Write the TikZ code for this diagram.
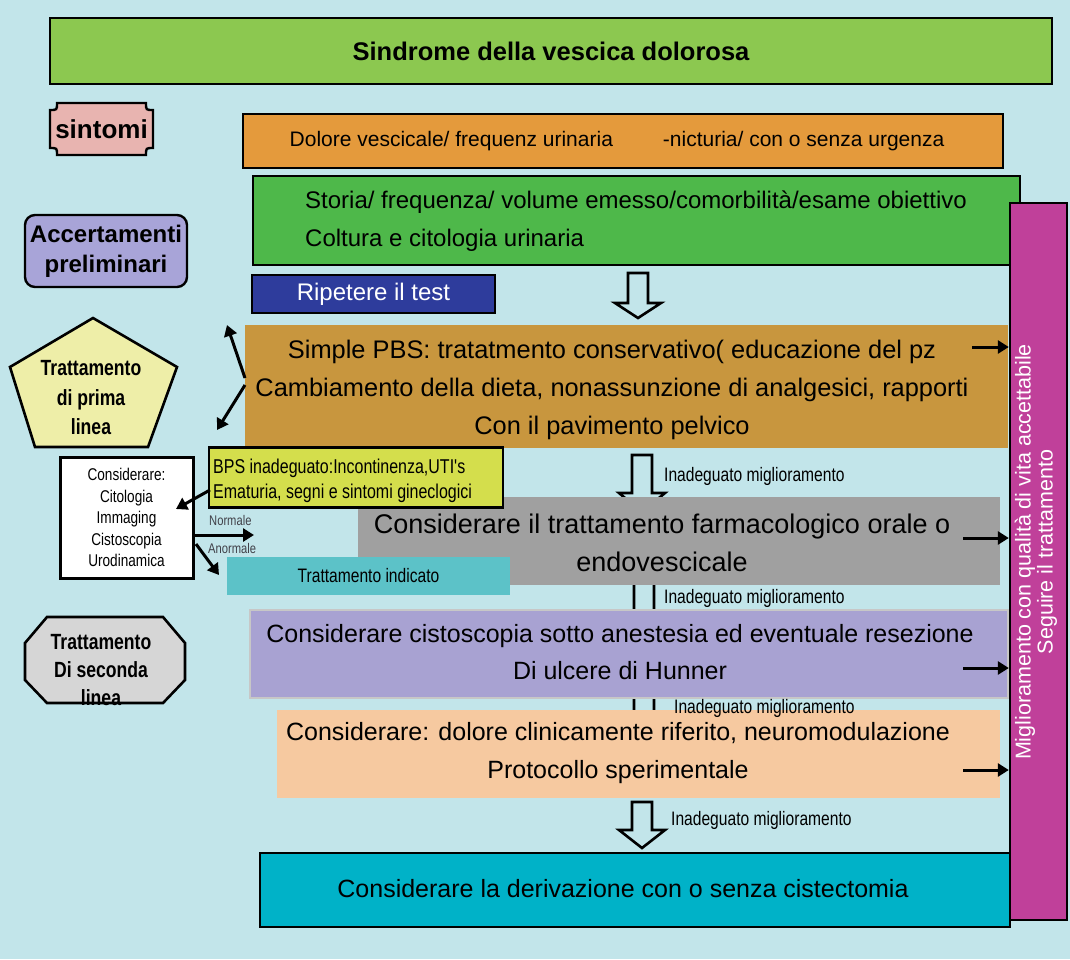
\documentclass[tikz,border=0pt]{standalone}
\usepackage{fontspec}
\setmainfont{Liberation Sans}
\newfontfamily\narrowsf[FakeStretch=0.8]{Liberation Sans}
\usetikzlibrary{arrows.meta}

\definecolor{bgc}{HTML}{C2E5EA}
\definecolor{titlegreen}{HTML}{8CC850}
\definecolor{symppink}{HTML}{E8B4B0}
\definecolor{orangebar}{HTML}{E49A3C}
\definecolor{histgreen}{HTML}{4EB84A}
\definecolor{lavender}{HTML}{A8A4D8}
\definecolor{navybar}{HTML}{2E3C9C}
\definecolor{ochre}{HTML}{C8963E}
\definecolor{paleyellow}{HTML}{EEEEA8}
\definecolor{limebar}{HTML}{D4DE4C}
\definecolor{midgray}{HTML}{A0A0A0}
\definecolor{tealsoft}{HTML}{5CC2C8}
\definecolor{violetbar}{HTML}{A8A2D2}
\definecolor{lightgraybox}{HTML}{D6D6D6}
\definecolor{peachbar}{HTML}{F6C9A0}
\definecolor{cyanbar}{HTML}{00B2C8}
\definecolor{magentabar}{HTML}{C0409A}
\definecolor{labelgray}{HTML}{404048}

\newcommand\fsz[2]{\fontsize{#1}{#2}\selectfont}
% hollow block arrow pointing down: centre x, top, shoulder, tip
\newcommand\hollowdown[4]{%
  \draw[hollow] ({#1-10},#2) -- ({#1+10},#2) -- ({#1+10},#3) -- ({#1+23},#3)
    -- (#1,#4) -- ({#1-23},#3) -- ({#1-10},#3) -- cycle;}

\begin{document}
\begin{tikzpicture}[x=1pt,y=-1pt,
  box/.style={draw=black, line width=2.4pt, inner sep=0pt},
  panel/.style={draw=none, inner sep=0pt},
  txt/.style={inner sep=0pt, align=center},
  conn/.style={line width=3pt, -{Triangle[length=11pt,width=13pt]}},
  hollow/.style={draw=black, line width=2.6pt, fill=bgc, line join=miter},
  note/.style={inner sep=0pt, anchor=west, font=\narrowsf\fsz{19.5}{22}},
  tiny/.style={inner sep=0pt, anchor=west, text=labelgray, font=\narrowsf\fsz{14}{16}},
]
\useasboundingbox (0,0) rectangle (1070,959);
\fill[bgc] (0,0) rectangle (1070,959);

% block arrows between the treatment steps (partly covered by the boxes)
\hollowdown{638}{273}{303}{318}
\hollowdown{642}{455}{493}{512}
\hollowdown{644}{575}{620}{640}
\hollowdown{644}{690}{730}{745}
\hollowdown{642}{802}{830}{848}

% title
\node[box, fill=titlegreen, minimum width=1002pt, minimum height=66pt,
      font=\bfseries\fsz{25.5}{30}] (title) at (551,51) {Sindrome della vescica dolorosa};

% symptoms
\draw[line width=2.4pt, fill=symppink]
  (57,103) -- (146,103) .. controls (146,110) .. (153,110) -- (153,148)
  .. controls (146,148) .. (146,155) -- (57,155) .. controls (57,148) .. (50,148)
  -- (50,110) .. controls (57,110) .. (57,103) -- cycle;
\node[txt, font=\bfseries\fsz{26}{30}] (sintomi) at (101.5,129) {sintomi};
\node[box, fill=orangebar, minimum width=760pt, minimum height=54pt] (symptoms) at (623,141) {};
\node[txt, font=\fsz{21}{24}] (symptomstext) at (617,141)
  {Dolore vescicale/ frequenz urinaria\hspace{50pt}-nicturia/ con o senza urgenza};

% preliminary assessment
\node[box, fill=lavender, rounded corners=10pt, minimum width=162pt, minimum height=72pt,
      align=center, font=\bfseries\fsz{24}{30}] (prelim) at (106,251) {Accertamenti\\preliminari};
\node[box, fill=histgreen, minimum width=767pt, minimum height=89pt] (history) at (636.5,220.5) {};
\node[txt, align=left, anchor=west, font=\fsz{24}{38}] (historytext) at (305,221)
  {Storia/ frequenza/ volume emesso/comorbilità/esame obiettivo\\Coltura e citologia urinaria};
\node[box, fill=navybar, text=white, minimum width=243pt, minimum height=38pt,
      font=\fsz{24}{28}] (repeat) at (373.5,294) {Ripetere il test};

% first line treatment
\node[panel, fill=ochre, minimum width=763pt, minimum height=123pt] (pbs) at (626.5,386.5) {};
\node[txt, font=\fsz{25.4}{38}] (pbstext) at (612,390)
  {Simple PBS: tratatmento conservativo( educazione del pz\\
   Cambiamento della dieta, nonassunzione di analgesici, rapporti\\
   Con il pavimento pelvico};
\draw[line width=2.6pt, fill=paleyellow] (93,318) -- (177,367) -- (148,447) -- (35,447) -- (10,367) -- cycle;
\node[txt, font=\narrowsf\bfseries\fsz{22}{29.5}] (firstline) at (91,398) {Trattamento\\di prima\\linea};

% oral / intravesical treatment
\node[panel, fill=midgray, minimum width=642pt, minimum height=88pt] (oral) at (679,541) {};
\node[txt, font=\fsz{27}{38}] (oraltext) at (662,543)
  {Considerare il trattamento farmacologico orale o\\endovescicale};

% further work-up
\node[box, line width=3pt, fill=white, minimum width=133pt, minimum height=121pt,
      align=center, font=\narrowsf\fsz{17}{21.5}] (workup) at (126.5,517.5)
  {Considerare:\\Citologia\\Immaging\\Cistoscopia\\Urodinamica};
\node[box, fill=limebar, minimum width=294pt, minimum height=60pt] (bps) at (356,477.5) {};
\node[txt, align=left, anchor=west, font=\narrowsf\fsz{20}{25}] (bpstext) at (213,480.5)
  {BPS inadeguato:Incontinenza,UTI's\\Ematuria, segni e sintomi gineclogici};
\node[panel, fill=tealsoft, minimum width=283pt, minimum height=38pt,
      font=\narrowsf\fsz{19.5}{22}] (indicated) at (368.5,576) {Trattamento indicato};

% second line treatment
\node[panel, draw=black!22, line width=2pt, fill=violetbar, minimum width=758pt, minimum height=88pt] (cysto) at (629,654) {};
\node[txt, font=\fsz{25}{37}] (cystotext) at (620,652)
  {Considerare cistoscopia sotto anestesia ed eventuale resezione\\Di ulcere di Hunner};
\draw[line width=2.6pt, fill=lightgraybox] (47,617) -- (163,617) -- (185,643) -- (185,680)
  -- (163,703) -- (47,703) -- (25,680) -- (25,643) -- cycle;
\node[txt, font=\narrowsf\bfseries\fsz{22}{28}] (secondline) at (101,670) {Trattamento\\Di seconda\\linea};

\node[panel, fill=peachbar, minimum width=723pt, minimum height=88pt] (neuro) at (638.5,754) {};
\node[txt, font=\fsz{25}{38}] (neurotext) at (618,753.5)
  {Considerare: dolore clinicamente riferito, neuromodulazione\\Protocollo sperimentale};

\node[box, fill=cyanbar, minimum width=750pt, minimum height=74pt] (diversion) at (635,890) {};
\node[txt, font=\fsz{25}{30}] (diversiontext) at (623,889) {Considerare la derivazione con o senza cistectomia};

% quality of life bar
\node[box, fill=magentabar, minimum width=57pt, minimum height=717pt] (qol) at (1038.5,561.5) {};
\node[txt, rotate=90, text=white, font=\fsz{21.5}{22}] (qoltext) at (1036,552)
  {Miglioramento con qualità di vita accettabile\\Seguire il trattamento};

% step labels
\node[note] (inad1) at (664,476) {Inadeguato miglioramento};
\node[note] (inad2) at (664,598) {Inadeguato miglioramento};
\node[note] (inad3) at (674,708) {Inadeguato miglioramento};
\node[note] (inad4) at (671,820) {Inadeguato miglioramento};

% connectors
\coordinate (pbsA) at (245,378);
\coordinate (pbsB) at (245,385);
\coordinate (upTip) at (227,325);
\coordinate (downTip) at (217,430);
\draw[conn] (pbsA) -- (upTip);
\draw[conn] (pbsB) -- (downTip);

\coordinate (bpsOut) at (210,490);
\coordinate (bpsTip) at (176,509);
\draw[conn] (bpsOut) -- (bpsTip);

\coordinate (normStart) at (194,535);
\coordinate (normEnd) at (254,535);
\draw[conn] (normStart) -- (normEnd);
\node[tiny] (normal) at (209,520) {Normale};
\coordinate (abnStart) at (196,544);
\coordinate (abnEnd) at (219,575);
\draw[conn] (abnStart) -- (abnEnd);
\node[tiny] (abnormal) at (208,548) {Anormale};

\coordinate (r1) at (972,347);
\coordinate (r2) at (963,538);
\coordinate (r3) at (963,668);
\coordinate (r4) at (963,770);
\draw[conn] (r1) -- (r1 -| qol.west);
\draw[conn] (r2) -- (r2 -| qol.west);
\draw[conn] (r3) -- (r3 -| qol.west);
\draw[conn] (r4) -- (r4 -| qol.west);
\end{tikzpicture}
\end{document}
